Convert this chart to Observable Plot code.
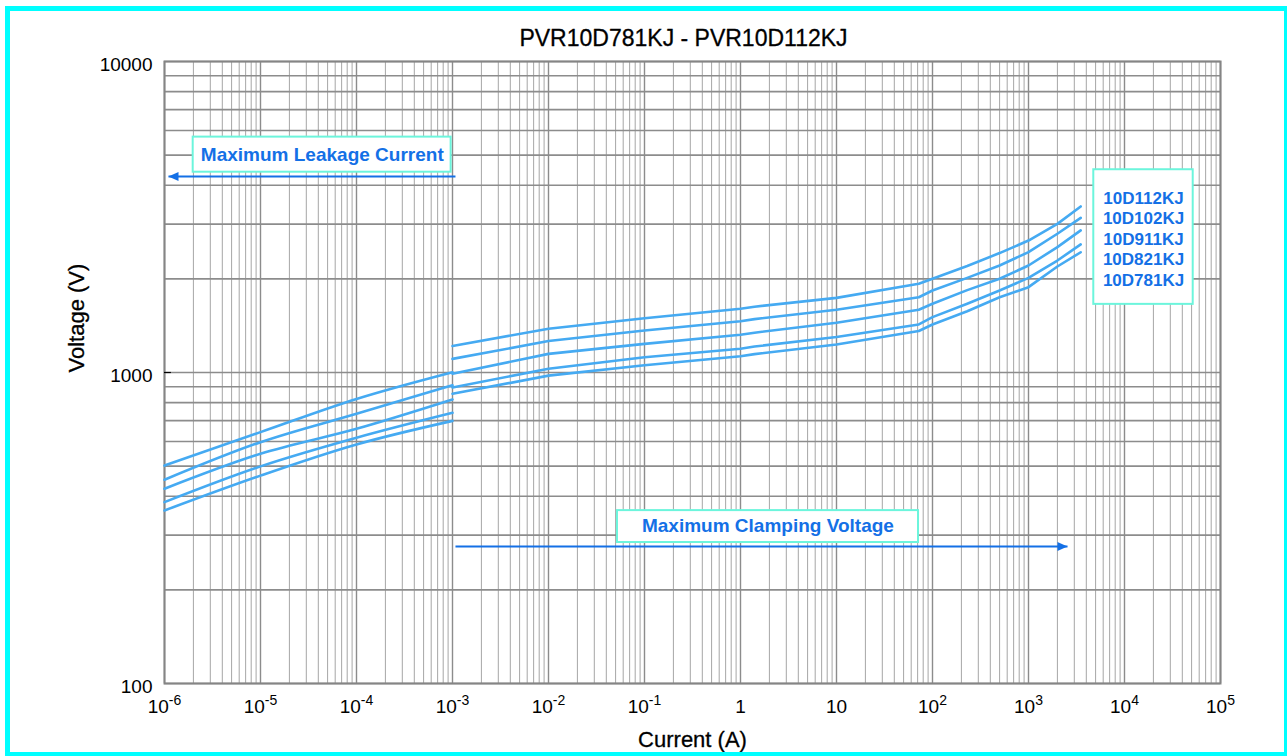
<!DOCTYPE html>
<html>
<head>
<meta charset="utf-8">
<script src="https://cdn.jsdelivr.net/npm/d3@7"></script>
<script src="https://cdn.jsdelivr.net/npm/@observablehq/plot@0.6"></script>
<style>
  html, body { margin: 0; padding: 0; background: #fff; }
  #wrap { position: relative; width: 1287px; height: 756px; overflow: hidden; font-family: "Liberation Sans", Arial, sans-serif; }
  #frame { position: absolute; left: 5px; top: 6px; width: 1284px; height: 751px; box-sizing: border-box; border: 5px solid #00ffff; pointer-events: none; }
</style>
</head>
<body>
<div id="wrap"><div id="chart"></div><div id="frame"></div></div>
<script>
// ---- data ----
const models = ["10D112KJ", "10D102KJ", "10D911KJ", "10D821KJ", "10D781KJ"];

const leakageCurrent = [1e-6, 1e-5, 1e-4, 1e-3];
const leakage112 = [502, 643, 822, 1002];
const leakage102 = [452, 597, 737, 910];
const leakage911 = [423, 548, 659, 819];
const leakage821 = [383, 499, 617, 742];
const leakage781 = [360, 466, 587, 699];

const clampCurrent = [1e-3, 1e-2, 1e-1, 1, 1.4, 10, 72, 100, 230, 500, 1000, 2000, 3500];
const clamp112 = [1216, 1383, 1495, 1603, 1628, 1738, 1928, 2002, 2200, 2421, 2656, 3006, 3420];
const clamp102 = [1106, 1262, 1365, 1462, 1485, 1591, 1746, 1835, 2015, 2208, 2438, 2793, 3143];
const clamp911 = [991, 1148, 1236, 1322, 1343, 1445, 1591, 1664, 1840, 2002, 2208, 2530, 2863];
const clamp821 = [895, 1028, 1120, 1192, 1212, 1300, 1427, 1507, 1664, 1835, 2015, 2291, 2581];
const clamp781 = [854, 977, 1055, 1128, 1146, 1231, 1360, 1427, 1574, 1746, 1881, 2192, 2436];

const xTickValues = [1e-6, 1e-5, 1e-4, 1e-3, 1e-2, 1e-1, 1, 10, 100, 1e3, 1e4, 1e5];
const xTickLabels = ["10^-6", "10^-5", "10^-4", "10^-3", "10^-2", "10^-1", "1", "10", "10^2", "10^3", "10^4", "10^5"];
const yTickValues = [100, 1000, 10000];
const yTickLabels = ["100", "1000", "10000"];

const title = "PVR10D781KJ - PVR10D112KJ";
const xLabel = "Current (A)";
const yLabel = "Voltage (V)";

// annotations (in data coordinates)
const noteText = ["Maximum Leakage Current", "Maximum Clamping Voltage"];
const noteX = [4.4e-5, 1.93];
const noteY = [5015, 320];
const noteBoxX1 = [1.99e-6, 0.0523];
const noteBoxX2 = [9.68e-4, 71.5];
const noteBoxY1 = [5713, 359.7];
const noteBoxY2 = [4406, 284];
const arrowFrom = [1.074e-3, 1.074e-3];
const arrowTo = [1.10e-6, 2548];
const arrowY = [4266, 275.7];
const arrowDir = ["left", "right"];

const legendX = 15780;
const legendY = [3626, 3116, 2683, 2308, 1976];
const legendBox = {x1: 4787, x2: 51970, y1: 4487, y2: 1656};

// ---- build tables ----
const leakSets = [leakage112, leakage102, leakage911, leakage821, leakage781];
const clampSets = [clamp112, clamp102, clamp911, clamp821, clamp781];
const leakRows = [], clampRows = [];
models.forEach((m, i) => {
  leakageCurrent.forEach((c, j) => leakRows.push({seg: m, current: c, voltage: leakSets[i][j]}));
  clampCurrent.forEach((c, j) => clampRows.push({seg: m, current: c, voltage: clampSets[i][j]}));
});
const notes = noteText.map((t, i) => ({text: t, x: noteX[i], y: noteY[i],
  x1: noteBoxX1[i], x2: noteBoxX2[i], y1: noteBoxY1[i], y2: noteBoxY2[i]}));
const arrows = arrowFrom.map((f, i) => ({x1: f, x2: arrowTo[i], y: arrowY[i], dir: arrowDir[i]}));
const legendRows = models.map((m, i) => ({text: m, x: legendX, y: legendY[i]}));

// gridlines
const minorX = [];
for (let e = -6; e < 5; e++) for (let k = 2; k <= 9; k++) minorX.push(k * 10 ** e);
const gridY = [];
for (let k = 1; k <= 10; k++) gridY.push(k * 100);
for (let k = 2; k <= 10; k++) gridY.push(k * 1000);

const leftHead = {draw(ctx) { ctx.moveTo(0, 0); ctx.lineTo(10, -4.5); ctx.lineTo(10, 4.5); ctx.closePath(); }};
const rightHead = {draw(ctx) { ctx.moveTo(0, 0); ctx.lineTo(-10, -4.5); ctx.lineTo(-10, 4.5); ctx.closePath(); }};

const blue = "#1470e6";
const curveColor = "#45aaf2";
const boxColor = "#6cf5dc";
const font = "'Liberation Sans', Arial, sans-serif";

const chart = Plot.plot({
  width: 1287,
  height: 756,
  marginLeft: 164,
  marginRight: 67,
  marginTop: 61,
  marginBottom: 73,
  style: {fontFamily: font, fontSize: "19px", color: "#000", background: "#fff"},
  x: {type: "log", domain: [1e-6, 1e5]},
  y: {type: "log", domain: [100, 10000]},
  marks: [
    Plot.ruleX(minorX, {stroke: "#a6a6a6", strokeWidth: 1}),
    Plot.ruleX(xTickValues, {stroke: "#8c8c8c", strokeWidth: 1.4}),
    Plot.ruleY(gridY, {stroke: "#8c8c8c", strokeWidth: 1.6}),
    Plot.frame({stroke: "#858585", strokeWidth: 2}),
    Plot.ruleY([1000], {x1: 1e-6, x2: 1.18e-6, stroke: "#000", strokeWidth: 1.2}),
    Plot.axisX({ticks: xTickValues, tickFormat: d => xTickLabels[xTickValues.indexOf(d)], tickSize: 0, tickPadding: 16, fontSize: 19, fill: "#000", stroke: "#000", strokeWidth: 0.3}),
    Plot.axisY({ticks: yTickValues, tickFormat: d => yTickLabels[yTickValues.indexOf(d)], tickSize: 0, tickPadding: 12, dy: 3, fontSize: 19, fill: "#000", stroke: "#000", strokeWidth: 0.3}),
    Plot.line(leakRows, {x: "current", y: "voltage", z: "seg", stroke: curveColor, strokeWidth: 2.6, curve: "monotone-x"}),
    Plot.line(clampRows, {x: "current", y: "voltage", z: "seg", stroke: curveColor, strokeWidth: 2.6}),
    // annotation arrows
    Plot.link(arrows, {x1: "x1", x2: "x2", y1: "y", y2: "y", stroke: blue, strokeWidth: 2}),
    Plot.dot(arrows.filter(d => d.dir === "left"), {x: "x2", y: "y", symbol: leftHead, fill: blue, stroke: "none", r: 5}),
    Plot.dot(arrows.filter(d => d.dir === "right"), {x: "x2", y: "y", symbol: rightHead, fill: blue, stroke: "none", r: 5}),
    // annotation boxes
    Plot.rect(notes, {x1: "x1", x2: "x2", y1: "y1", y2: "y2", fill: "#fff", stroke: boxColor, strokeWidth: 2}),
    Plot.text(notes, {x: "x", y: "y", text: "text", fill: blue, fontSize: 19, fontWeight: "bold"}),
    // legend
    Plot.rect([legendBox], {x1: "x1", x2: "x2", y1: "y1", y2: "y2", fill: "#fff", stroke: boxColor, strokeWidth: 2}),
    Plot.text(legendRows, {x: "x", y: "y", text: "text", fill: blue, fontSize: 17, fontWeight: "bold"}),
    // title and axis labels
    Plot.text([title], {frameAnchor: "top", lineAnchor: "bottom", dx: -9, dy: -16, fontSize: 23, fill: "#000", stroke: "#000", strokeWidth: 0.3}),
    Plot.text([xLabel], {frameAnchor: "bottom", lineAnchor: "bottom", dy: 63, fontSize: 22, fill: "#000", stroke: "#000", strokeWidth: 0.3}),
    Plot.text([yLabel], {frameAnchor: "left", rotate: -90, dx: -88, fontSize: 22, fill: "#000", stroke: "#000", strokeWidth: 0.3})
  ]
});

// superscript exponents on the x tick labels
chart.querySelectorAll('[aria-label="x-axis tick label"] text').forEach(t => {
  const s = t.textContent;
  const i = s.indexOf("^");
  if (i < 0) return;
  const base = s.slice(0, i), exp = s.slice(i + 1);
  t.textContent = "";
  const ns = "http://www.w3.org/2000/svg";
  const a = document.createElementNS(ns, "tspan"); a.textContent = base; t.appendChild(a);
  const b = document.createElementNS(ns, "tspan"); b.textContent = exp;
  b.setAttribute("dy", "-8"); b.setAttribute("font-size", "14"); t.appendChild(b);
});

document.getElementById("chart").appendChild(chart);
</script>
</body>
</html>
